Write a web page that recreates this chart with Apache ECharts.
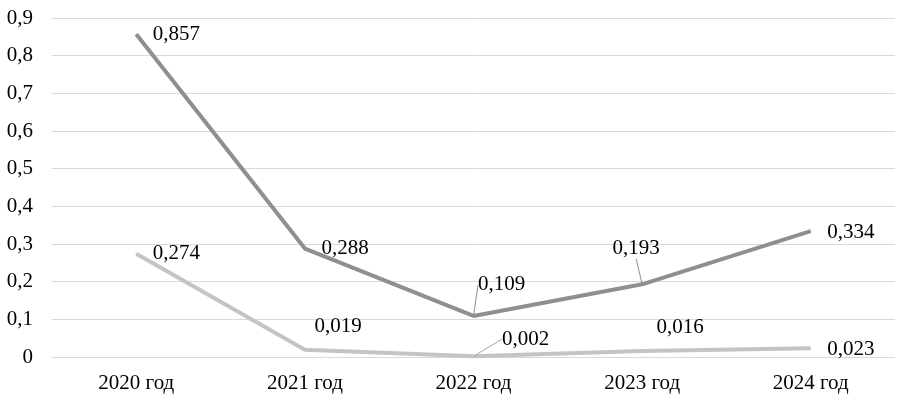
<!DOCTYPE html>
<html>
<head>
<meta charset="utf-8">
<script src="https://cdn.jsdelivr.net/npm/echarts@6/dist/echarts.min.js"></script>
<style>
html,body{margin:0;padding:0;background:#fff;}
#main{width:909px;height:404px;}
</style>
</head>
<body>
<div id="main"></div>
<script>
var years = ['2020 год', '2021 год', '2022 год', '2023 год', '2024 год'];
var seriesTop = [0.857, 0.288, 0.109, 0.193, 0.334];
var seriesBottom = [0.274, 0.019, 0.002, 0.016, 0.023];

// label nudges (dx, dy) relative to the default 'right' position
var nudgeTop = [[0, 0], [0, 0], [-12, -31], [-46, -36], [0, 1]];
var nudgeBottom = [[0, 0], [-7, -23], [12, -17], [-2, -23], [0, 1]];
var leaderTop = [false, false, true, true, false];
var leaderBottom = [false, false, true, false, false];

var font = '"Liberation Serif", "Times New Roman", serif';

function fmt(v) {
    return String(v).replace('.', ',');
}

function makeData(vals, leaders, color) {
    var out = [];
    for (var i = 0; i < vals.length; i++) {
        out.push({
            value: vals[i],
            labelLine: {show: leaders[i], lineStyle: {color: color, width: 1}}
        });
    }
    return out;
}

var myChart = echarts.init(document.getElementById('main'));
var option = {
    animation: false,
    backgroundColor: '#fff',
    grid: {left: 52, right: 14, top: 18, bottom: 47},
    xAxis: {
        type: 'category',
        data: years,
        boundaryGap: true,
        axisLine: {show: false},
        axisTick: {show: false},
        axisLabel: {color: '#000', fontFamily: font, fontSize: 21, margin: 16}
    },
    yAxis: {
        type: 'value',
        min: 0,
        max: 0.9,
        interval: 0.1,
        axisLine: {show: false},
        axisTick: {show: false},
        splitLine: {lineStyle: {color: '#d9d9d9', width: 1}},
        axisLabel: {
            color: '#000', fontFamily: font, fontSize: 21, margin: 19,
            formatter: function (v) { return fmt(Math.round(v * 10) / 10); }
        }
    },
    series: [
        {
            type: 'line',
            data: makeData(seriesTop, leaderTop, '#8f8f8f'),
            symbol: 'circle',
            symbolSize: 1,
            itemStyle: {color: '#8f8f8f'},
            lineStyle: {color: '#8f8f8f', width: 4},
            label: {
                show: true, position: 'right', distance: 16,
                color: '#000', fontFamily: font, fontSize: 21,
                formatter: function (p) { return fmt(p.value); }
            },
            labelLayout: function (p) {
                var n = nudgeTop[p.dataIndex];
                return {dx: n[0], dy: n[1]};
            },
            z: 3
        },
        {
            type: 'line',
            data: makeData(seriesBottom, leaderBottom, '#a6a6a6'),
            symbol: 'circle',
            symbolSize: 1,
            itemStyle: {color: '#c4c4c4'},
            lineStyle: {color: '#c4c4c4', width: 4},
            label: {
                show: true, position: 'right', distance: 16,
                color: '#000', fontFamily: font, fontSize: 21,
                formatter: function (p) { return fmt(p.value); }
            },
            labelLayout: function (p) {
                var n = nudgeBottom[p.dataIndex];
                return {dx: n[0], dy: n[1]};
            },
            z: 2
        }
    ]
};
myChart.setOption(option);
</script>
</body>
</html>
